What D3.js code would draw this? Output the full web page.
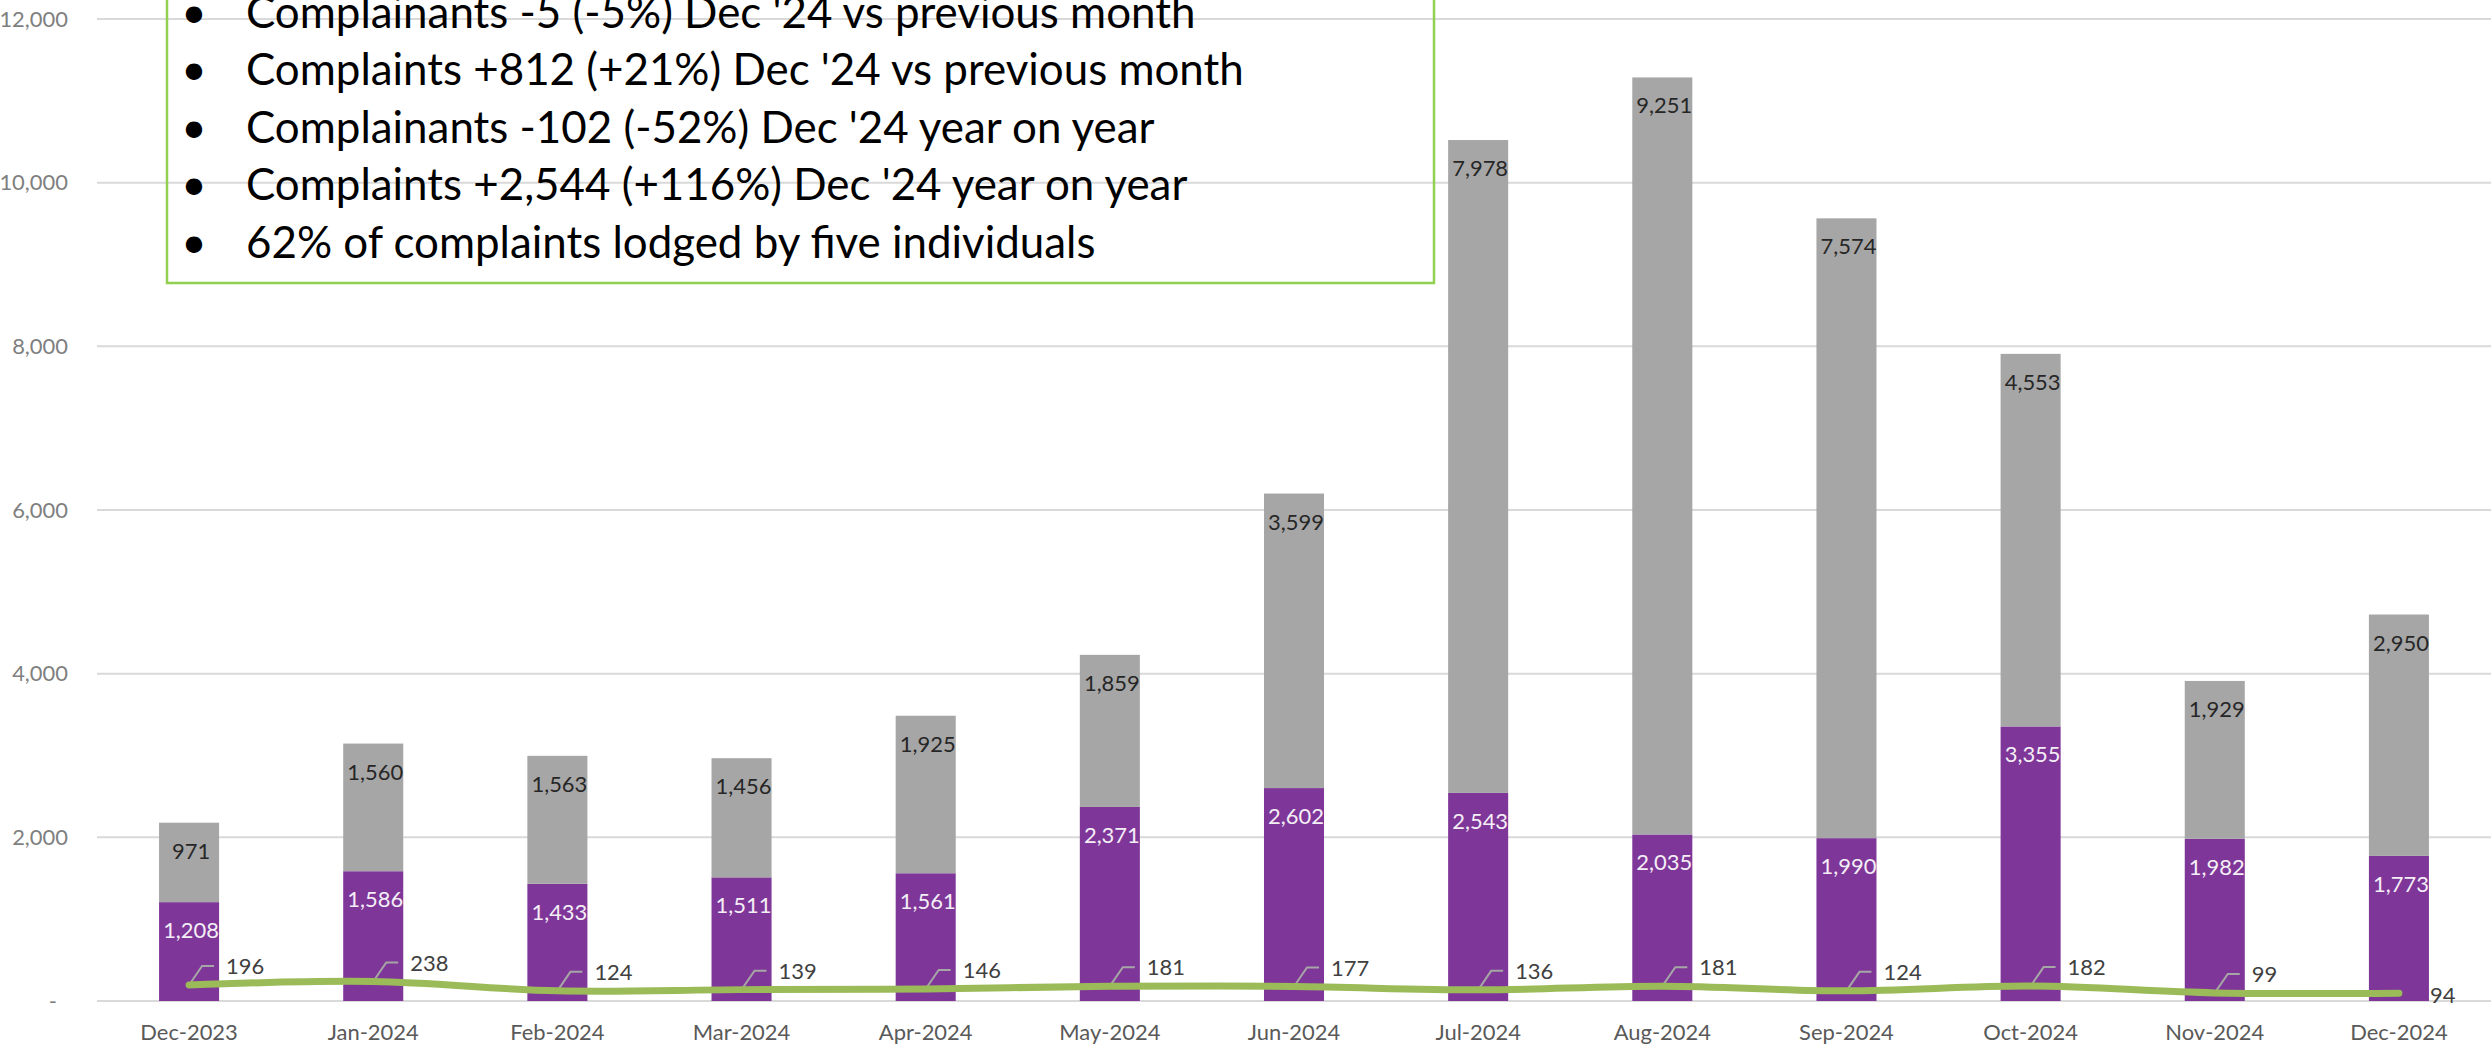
<!DOCTYPE html>
<html>
<head>
<meta charset="utf-8">
<style>
  body { margin: 0; background: #fff; }
  svg { display: block; font-family: Lato, "Open Sans", sans-serif; }
</style>
</head>
<body>
<svg id="chart"></svg>
<script src="https://d3js.org/d3.v7.min.js"></script>
<script>
const width = 2491, height = 1045;

// data
const months = ['Dec-2023', 'Jan-2024', 'Feb-2024', 'Mar-2024', 'Apr-2024', 'May-2024', 'Jun-2024',
                'Jul-2024', 'Aug-2024', 'Sep-2024', 'Oct-2024', 'Nov-2024', 'Dec-2024'];
const otherComplaints   = [1208, 1586, 1433, 1511, 1561, 2371, 2602, 2543, 2035, 1990, 3355, 1982, 1773];
const topFiveComplaints = [971, 1560, 1563, 1456, 1925, 1859, 3599, 7978, 9251, 7574, 4553, 1929, 2950];
const complainants      = [196, 238, 124, 139, 146, 181, 177, 136, 181, 124, 182, 99, 94];
const yTicks = [0, 2000, 4000, 6000, 8000, 10000, 12000];
const notes = [
  "Complainants -5 (-5%) Dec '24 vs previous month",
  "Complaints +812 (+21%) Dec '24 vs previous month",
  "Complainants -102 (-52%) Dec '24 year on year",
  "Complaints +2,544 (+116%) Dec '24 year on year",
  "62% of complaints lodged by five individuals"
];

const svg = d3.select('#chart').attr('width', width).attr('height', height);
const fmt = d3.format(',');

// Calibri isn't here, so scale the stand-in font to the same text width
const probe = svg.append('text').attr('font-size', 48).text(notes[1]);
const fit = 998 / probe.node().getComputedTextLength();
probe.remove();
const fs = s => s * fit;

const x = d3.scaleBand().domain(months).range([97, width])
    .paddingInner(0.674).paddingOuter(0.337);
const y = d3.scaleLinear().domain([0, 12000]).range([1001, 19]);
const cx = m => x(m) + x.bandwidth() / 2;

// gridlines
svg.append('g').selectAll('line').data(yTicks).join('line')
    .attr('x1', 97).attr('x2', width)
    .attr('y1', d => y(d)).attr('y2', d => y(d))
    .attr('stroke', '#d9d9d9').attr('stroke-width', 2);

// y axis
const yAxis = svg.append('g').attr('transform', 'translate(97,0)')
    .call(d3.axisLeft(y).tickValues(yTicks).tickSize(0).tickPadding(29)
        .tickFormat(d => d === 0 ? '-' : fmt(d)));
yAxis.select('.domain').remove();
yAxis.selectAll('text').attr('font-family', 'Lato').attr('font-size', fs(24)).attr('fill', '#7f7f7f');
yAxis.selectAll('.tick').filter(d => d === 0).select('text').attr('dx', -11);

// x axis
const xAxis = svg.append('g').attr('transform', 'translate(0,1001)')
    .call(d3.axisBottom(x).tickSize(0));
xAxis.select('.domain').remove();
xAxis.selectAll('text').attr('font-family', 'Lato').attr('font-size', fs(24)).attr('fill', '#595959')
    .attr('dy', null).attr('y', 39);

// stacked bars
const rows = months.map((m, i) => ({ month: m, other: otherComplaints[i], topFive: topFiveComplaints[i] }));
const stacked = d3.stack().keys(['other', 'topFive'])(rows);
const barColor = { other: '#7f3699', topFive: '#a6a6a6' };
const labelColor = { other: '#f4eef6', topFive: '#262626' };

svg.append('g').selectAll('g').data(stacked).join('g')
    .attr('fill', s => barColor[s.key])
  .selectAll('rect').data(s => s).join('rect')
    .attr('x', d => x(d.data.month)).attr('width', x.bandwidth())
    .attr('y', d => y(d[1])).attr('height', d => y(d[0]) - y(d[1]));

svg.append('g').selectAll('g').data(stacked).join('g')
    .attr('fill', s => labelColor[s.key])
  .selectAll('text').data(s => s).join('text')
    .attr('x', d => cx(d.data.month) + 2)
    .attr('y', d => y(d[1]) + 36)
    .attr('text-anchor', 'middle')
    .attr('font-size', fs(24))
    .text(d => fmt(d[1] - d[0]));

// complainants line with callout labels
const pts = months.map((m, i) => ({ px: cx(m), py: y(complainants[i]), v: complainants[i], last: i === months.length - 1 }));

svg.append('g').selectAll('path').data(pts.filter(p => !p.last)).join('path')
    .attr('d', p => {
      const lx = p.px + 37, ly = p.py - 19;
      return `M${p.px},${p.py}L${lx - 24},${ly}L${lx - 12},${ly}`;
    })
    .attr('fill', 'none').attr('stroke', '#a6a6a6').attr('stroke-width', 2);

svg.append('path').datum(pts)
    .attr('d', d3.line().x(p => p.px).y(p => p.py).curve(d3.curveCatmullRom.alpha(0.5)))
    .attr('fill', 'none').attr('stroke', '#9bbb59').attr('stroke-width', 7)
    .attr('stroke-linecap', 'round');

svg.append('g').selectAll('text').data(pts).join('text')
    .attr('x', p => p.last ? p.px + 31 : p.px + 37)
    .attr('y', p => p.last ? p.py + 10 : p.py - 11)
    .attr('font-size', fs(24)).attr('fill', '#404040')
    .text(p => p.v);

// notes box
const box = svg.append('g');
box.append('rect').attr('x', 167).attr('y', -20).attr('width', 1267).attr('height', 303)
    .attr('fill', 'none').attr('stroke', '#92d050').attr('stroke-width', 2.5);
const noteRows = box.selectAll('g').data(notes).join('g')
    .attr('transform', (d, i) => `translate(0,${27.5 + i * 57.5})`);
noteRows.append('text').attr('x', 194).attr('text-anchor', 'middle')
    .attr('font-size', fs(48)).attr('fill', '#000').text('•');
noteRows.append('text').attr('x', 246)
    .attr('font-size', fs(48)).attr('fill', '#000').text(d => d);
</script>
</body>
</html>
